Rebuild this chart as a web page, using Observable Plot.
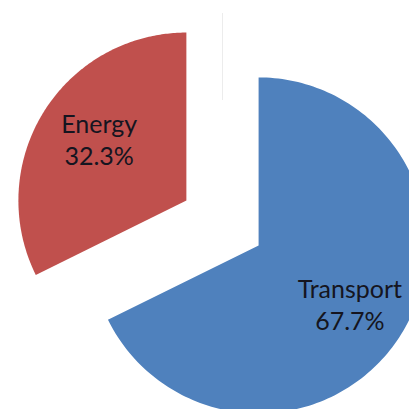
<!DOCTYPE html>
<html>
<head>
<meta charset="utf-8">
<script src="https://cdn.jsdelivr.net/npm/d3@7"></script>
<script src="https://cdn.jsdelivr.net/npm/@observablehq/plot@0.6"></script>
<style>
  html, body { margin: 0; padding: 0; background: #fff; overflow: hidden; }
  #chart svg { display: block; }
</style>
</head>
<body>
<div id="chart"></div>
<script>
const categories = ["Transport", "Energy"];
const values = [67.7, 32.3];
const percentLabels = ["67.7%", "32.3%"];
const colors = ["#4F81BD", "#C0504D"];

// layout (pixel space)
const W = 409, H = 409;
const cx = 222, cy = 222.5, radius = 168, explode = 42.5, labelFrac = 0.64;
const labelAngleShift = 0.035; // radians, rotates labels slightly clockwise

const arcs = d3.pie().sort(null).value(d => d)(values);
const slicePts = [];
const labelPts = [];
arcs.forEach((a, i) => {
  const mid = (a.startAngle + a.endAngle) / 2;
  const ox = cx + explode * Math.sin(mid);
  const oy = cy - explode * Math.cos(mid);
  const pts = [{x: ox, y: oy, k: categories[i]}];
  const n = 180;
  for (let j = 0; j <= n; j++) {
    const t = a.startAngle + (a.endAngle - a.startAngle) * j / n;
    pts.push({x: ox + radius * Math.sin(t), y: oy - radius * Math.cos(t), k: categories[i]});
  }
  pts.push({x: ox, y: oy, k: categories[i]});
  slicePts.push(pts);
  const la = mid + labelAngleShift;
  labelPts.push({
    x: ox + labelFrac * radius * Math.sin(la),
    y: oy - labelFrac * radius * Math.cos(la),
    text: categories[i] + "\n" + percentLabels[i]
  });
});

const marks = [
  Plot.ruleX([cx], {y1: 13, y2: 100, stroke: "#ececec", strokeWidth: 1})
];
slicePts.forEach((pts, i) => {
  marks.push(Plot.line(pts, {x: "x", y: "y", fill: colors[i], stroke: "none", curve: "linear"}));
});
marks.push(Plot.text(labelPts, {
  x: "x", y: "y", text: "text",
  dx: 2, dy: -2,
  fontSize: 25, lineHeight: 1.3,
  fill: "#151520",
  fontFamily: "Lato, 'Open Sans', sans-serif",
  textAnchor: "middle"
}));

const chart = Plot.plot({
  width: W, height: H,
  margin: 0,
  x: {domain: [0, W], range: [0, W], axis: null},
  y: {domain: [0, H], range: [0, H], axis: null},
  style: {background: "#fff", overflow: "hidden"},
  marks
});
document.getElementById("chart").appendChild(chart);
</script>
</body>
</html>
